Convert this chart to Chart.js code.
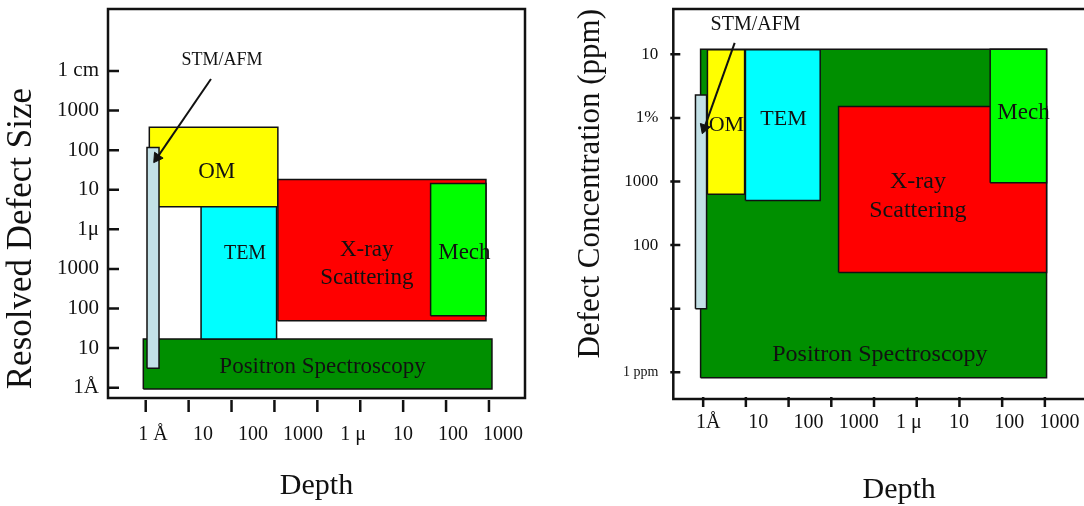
<!DOCTYPE html>
<html>
<head>
<meta charset="utf-8">
<script src="https://cdn.jsdelivr.net/npm/chart.js@4.4.0/dist/chart.umd.min.js"></script>
<style>
  html, body { margin: 0; padding: 0; background: #fff; overflow: hidden; width: 1084px; height: 506px; }
  canvas { position: absolute; top: 0; }
  #sizeChart { left: 0; }
  #concChart { left: 542px; }
</style>
</head>
<body>
<canvas id="sizeChart" width="542" height="506"></canvas>
<canvas id="concChart" width="590" height="506"></canvas>
<script>
const SERIF = "'Liberation Serif', 'Times New Roman', serif";
const INK = '#111';

// depth axis: tick marks sit on decades, labels are spaced a bit wider in the original
const depthTicks = [0, 1, 2, 3, 4, 5, 6, 7, 8];
const depthLabelsL = ['1 Å', '10', '100', '1000', '1 μ', '10', '100', '1000'];
const depthLabelsR = ['1Å', '10', '100', '1000', '1 μ', '10', '100', '1000'];

// left panel: resolved defect size (decades)
const sizeTicks = [0, 1, 2, 3, 4, 5, 6, 7, 8];
const sizeLabels = ['1Å', '10', '100', '1000', '1μ', '10', '100', '1000', '1 cm'];

// right panel: defect concentration (decades of ppm)
const concTicks = [0, 1, 2, 3, 4, 5];
const concLabels = ['1 ppm', '', '100', '1000', '1%', '10'];

// techniques (top-most first)
const methods = ['STM/AFM', 'Mech', 'X-ray', 'TEM', 'OM', 'Positron'];

const methodDepthL = [[0.03, 0.31], [6.64, 7.93], [3.08, 7.93], [1.29, 3.05], [0.084, 3.08], [-0.056, 8.07]];
const methodSizeL  = [[0.49, 6.07], [1.82, 5.16], [1.69, 5.26], [1.23, 4.57], [4.57, 6.58], [-0.03, 1.23]];

const methodDepthR = [[-0.18, 0.08], [6.72, 8.04], [3.17, 8.04], [0.99, 2.74], [0.10, 0.97], [-0.06, 8.04]];
const methodConcR  = [[1.0, 4.36], [2.98, 5.08], [1.57, 4.18], [2.70, 5.07], [2.80, 5.07], [-0.085, 5.08]];

// box captions
const captions = ['OM', 'TEM', ['X-ray', 'Scattering'], 'Mech', 'Positron Spectroscopy', 'STM/AFM'];
const captionDepthL = [1.655, 2.315, 5.152, 7.427, 4.121, 1.779];
const captionSizeL  = [5.456, 3.377, 3.124, 3.41, 0.535, 8.278];
const captionDepthR = [0.545, 1.881, 5.028, 7.499, 4.138, 1.228];
const captionConcR  = [3.888, 3.983, 2.772, 4.072, 0.272, 5.461];

// STM/AFM pointer
const arrowDepthL = [1.521, 0.266];
const arrowSizeL  = [7.797, 5.81];
const arrowDepthR = [0.738, 0.026];
const arrowConcR  = [5.18, 3.84];

const fillColors = {
  'STM/AFM': '#c3e1e7',
  'Mech': '#00ff00',
  'X-ray': '#ff0000',
  'TEM': '#00ffff',
  'OM': '#ffff00',
  'Positron': '#008f00'
};

function boxDataset(name, xs, ys) {
  return {
    label: name,
    data: [
      {x: xs[0], y: ys[0]}, {x: xs[1], y: ys[0]}, {x: xs[1], y: ys[1]},
      {x: xs[0], y: ys[1]}, {x: xs[0], y: ys[0]}
    ],
    xAxisID: 'x', yAxisID: 'y',
    borderColor: INK,
    borderWidth: 1.5,
    borderJoinStyle: 'miter',
    backgroundColor: fillColors[name],
    fill: 'shape',
    pointRadius: 0,
    tension: 0
  };
}

function arrowDataset(xs, ys) {
  return {
    label: 'pointer',
    data: [{x: xs[0], y: ys[0]}, {x: xs[1], y: ys[1]}],
    xAxisID: 'x', yAxisID: 'y',
    borderColor: INK,
    borderWidth: 2,
    fill: false,
    tension: 0,
    pointRadius: [0, 6],
    pointStyle: 'triangle',
    pointBackgroundColor: INK,
    pointBorderColor: INK,
    pointBorderWidth: 1,
    pointRotation: (c) => {
      const ch = c.chart, d = c.dataset.data;
      const dx = ch.scales.x.getPixelForValue(d[1].x) - ch.scales.x.getPixelForValue(d[0].x);
      const dy = ch.scales.y.getPixelForValue(d[1].y) - ch.scales.y.getPixelForValue(d[0].y);
      return Math.atan2(dx, -dy) * 180 / Math.PI;
    }
  };
}

// frame, inner/outer tick marks and the box captions
function decorPlugin(p) {
  return {
    id: 'decor',
    afterDatasetsDraw(chart) {
      const {ctx, chartArea: a, scales: {x, y}} = chart;
      ctx.save();
      ctx.fillStyle = INK;
      ctx.textAlign = 'center';
      ctx.textBaseline = 'middle';
      captions.forEach((t, i) => {
        const lines = Array.isArray(t) ? t : [t];
        const px = x.getPixelForValue(p.capX[i]);
        const py = y.getPixelForValue(p.capY[i]);
        const size = p.capFont[i];
        ctx.font = size + 'px ' + SERIF;
        const lh = size * 1.2;
        lines.forEach((s, k) => ctx.fillText(s, px, py + (k - (lines.length - 1) / 2) * lh));
      });

      ctx.strokeStyle = INK;
      ctx.lineWidth = 2.5;
      ctx.strokeRect(a.left, a.top, a.right - a.left, a.bottom - a.top);

      ctx.beginPath();
      p.xTicks.forEach(v => {
        const px = x.getPixelForValue(v);
        ctx.moveTo(px, a.bottom + p.xTickSpan[0]);
        ctx.lineTo(px, a.bottom + p.xTickSpan[1]);
      });
      p.yTicks.forEach(v => {
        const py = y.getPixelForValue(v);
        ctx.moveTo(a.left + p.yTickSpan[0], py);
        ctx.lineTo(a.left + p.yTickSpan[1], py);
      });
      ctx.stroke();
      ctx.restore();
    }
  };
}

function noEdgePadding(s) {
  s.paddingTop = 0;
  s.paddingBottom = 0;
  s.paddingLeft = 0;
  s.paddingRight = 0;
}

function makePanel(id, p) {
  const datasets = [arrowDataset(p.arrowX, p.arrowY)];
  methods.forEach((m, i) => datasets.push(boxDataset(m, p.boxX[i], p.boxY[i])));

  return new Chart(document.getElementById(id), {
    type: 'line',
    data: { datasets },
    plugins: [decorPlugin(p)],
    options: {
      responsive: false,
      animation: false,
      events: [],
      layout: { padding: p.padding },
      plugins: { legend: { display: false }, tooltip: { enabled: false } },
      scales: {
        x: {
          type: 'linear', display: false, min: p.xRange[0], max: p.xRange[1]
        },
        xl: {
          type: 'linear', position: 'bottom',
          min: p.labelRange[0], max: p.labelRange[1],
          grid: { display: false, drawTicks: false },
          border: { display: false },
          afterBuildTicks: s => { s.ticks = p.xLabels.map((_, i) => ({ value: i })); },
          afterFit: s => { s.height = p.xAxisHeight; noEdgePadding(s); },
          ticks: {
            autoSkip: false, maxRotation: 0, padding: p.xLabelPad, color: INK,
            font: { family: SERIF, size: 20 },
            callback: v => p.xLabels[v]
          },
          title: {
            display: true, text: 'Depth', color: INK,
            font: { family: SERIF, size: 30, lineHeight: 1 },
            padding: { top: 0, bottom: p.xTitlePad }
          }
        },
        y: {
          type: 'linear', position: 'left',
          min: p.yRange[0], max: p.yRange[1],
          grid: { display: false, drawTicks: false },
          border: { display: false },
          afterBuildTicks: s => { s.ticks = p.yTicks.map(v => ({ value: v })); },
          afterFit: s => { s.width = p.yAxisWidth; noEdgePadding(s); },
          ticks: {
            autoSkip: false, padding: p.yLabelPad, color: INK,
            font: p.yFont,
            callback: v => p.yLabels[v]
          },
          title: {
            display: true, text: p.yTitle, color: INK, align: p.yTitleAlign,
            font: { family: SERIF, size: p.yTitleSize },
            padding: { top: p.yTitlePad, bottom: 0 }
          }
        }
      }
    }
  });
}

makePanel('sizeChart', {
  boxX: methodDepthL, boxY: methodSizeL,
  arrowX: arrowDepthL, arrowY: arrowSizeL,
  capX: captionDepthL, capY: captionSizeL,
  capFont: [23, 20, 23, 23, 23, 18],
  xTicks: depthTicks, yTicks: sizeTicks,
  xLabels: depthLabelsL, yLabels: sizeLabels,
  xRange: [-0.879, 8.84], labelRange: [-0.9, 7.44], yRange: [-0.26, 9.565],
  padding: { top: 9, right: 17, left: 0, bottom: 0 },
  xAxisHeight: 108, yAxisWidth: 108,
  xLabelPad: 25, xTitlePad: 5,
  yLabelPad: 9, yFont: { family: SERIF, size: 21 },
  yTitle: ' Resolved Defect Size', yTitleAlign: 'start', yTitleSize: 35, yTitlePad: 1,
  xTickSpan: [2, 14], yTickSpan: [0, 11]
});

makePanel('concChart', {
  boxX: methodDepthR, boxY: methodConcR,
  arrowX: arrowDepthR, arrowY: arrowConcR,
  capX: captionDepthR, capY: captionConcR,
  capFont: [22, 22, 24, 23, 24, 20],
  xTicks: depthTicks, yTicks: concTicks,
  xLabels: depthLabelsR, yLabels: concLabels,
  xRange: [-0.699, 9.876], labelRange: [-0.694, 8.307], yRange: [-0.42, 5.712],
  padding: { top: 9, right: 5, left: 0, bottom: 0 },
  xAxisHeight: 107, yAxisWidth: 131.3,
  xLabelPad: 12, xTitlePad: 1,
  yLabelPad: 15,
  yFont: c => ({ family: SERIF, size: c.tick && c.tick.value === 0 ? 14 : 17 }),
  yTitle: 'Defect Concentration (ppm)', yTitleAlign: 'end', yTitleSize: 31, yTitlePad: 30,
  xTickSpan: [-2, 8], yTickSpan: [-3, 7]
});
</script>
</body>
</html>
